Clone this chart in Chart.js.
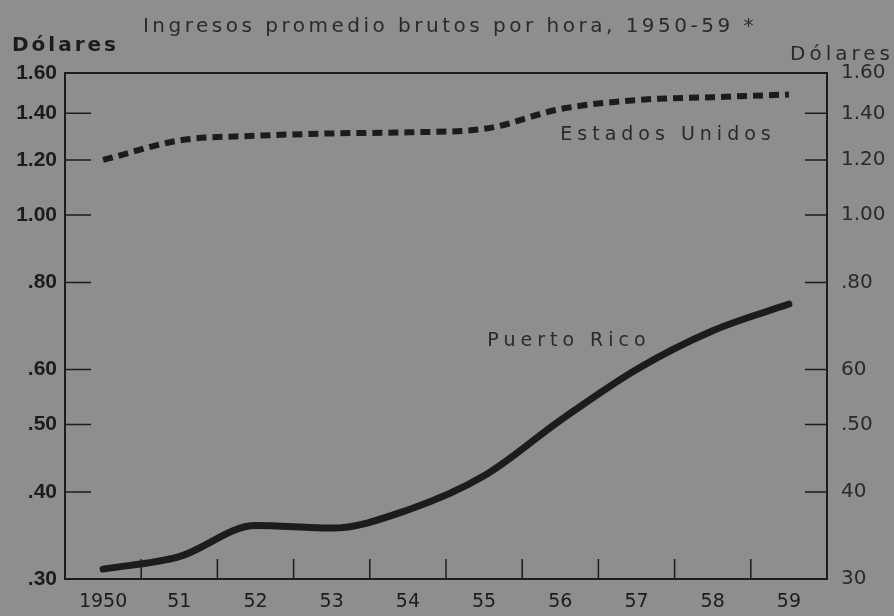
<!DOCTYPE html>
<html>
<head>
<meta charset="utf-8">
<script src="https://cdn.jsdelivr.net/npm/chart.js@4/dist/chart.umd.min.js"></script>
<style>
  html, body { margin: 0; padding: 0; background: #8e8e8e; }
  #wrap { width: 894px; height: 616px; }
</style>
</head>
<body>
<div id="wrap"><canvas id="myChart" width="894" height="616"></canvas></div>
<script>
// years along the bottom
var years = ['1950', '51', '52', '53', '54', '55', '56', '57', '58', '59'];
// dollars per hour
var puertoRico = [0.31, 0.323, 0.358, 0.355, 0.377, 0.422, 0.507, 0.600, 0.682, 0.745];
var estadosUnidos = [1.20, 1.28, 1.30, 1.31, 1.315, 1.33, 1.42, 1.463, 1.477, 1.49];
// tick values and how they are printed on each side
var tickValues = [0.30, 0.40, 0.50, 0.60, 0.80, 1.00, 1.20, 1.40, 1.60];
var leftTickLabels = ['.30', '.40', '.50', '.60', '.80', '1.00', '1.20', '1.40', '1.60'];
var rightTickLabels = ['30', '40', '.50', '60', '.80', '1.00', '1.20', '1.40', '1.60'];

var ink = '#1c1c1c';

// draws the frame, the little inside ticks and the loose texts
var decorations = {
  id: 'decorations',
  beforeDraw: function (chart) {
    var c = chart.ctx;
    c.save();
    c.fillStyle = '#8e8e8e';
    c.fillRect(0, 0, chart.width, chart.height);
    c.restore();
  },
  afterDatasetsDraw: function (chart) {
    var c = chart.ctx;
    var a = chart.chartArea;
    var y = chart.scales.y;
    var x = chart.scales.x;
    c.save();
    c.strokeStyle = ink;
    c.lineWidth = 2;
    c.strokeRect(a.left, a.top, a.right - a.left, a.bottom - a.top);

    // y ticks pointing in from both sides
    c.lineWidth = 1.5;
    tickValues.forEach(function (v) {
      var py = y.getPixelForValue(v);
      c.beginPath();
      c.moveTo(a.left, py); c.lineTo(a.left + 26, py);
      c.moveTo(a.right - 22, py); c.lineTo(a.right, py);
      c.stroke();
    });
    // year ticks between categories
    for (var i = 1; i < years.length; i++) {
      var px = (x.getPixelForValue(i - 1) + x.getPixelForValue(i)) / 2;
      c.beginPath();
      c.moveTo(px, a.bottom); c.lineTo(px, a.bottom - 20);
      c.stroke();
    }

    c.fillStyle = '#2a2a2a';
    c.textBaseline = 'middle';
    c.textAlign = 'center';
    c.font = '20px "DejaVu Sans"';
    c.letterSpacing = '3.5px';
    c.fillText('Ingresos promedio brutos por hora, 1950-59 *', 450, 27);

    c.fillStyle = ink;
    c.font = 'bold 20px "DejaVu Sans"';
    c.letterSpacing = '3px';
    c.textAlign = 'left';
    c.fillText('Dólares', 12, 46);
    c.fillStyle = '#2a2a2a';
    c.font = '20px "DejaVu Sans"';
    c.letterSpacing = '4px';
    c.fillText('Dólares', 790, 55);

    c.font = '19px "DejaVu Sans"';
    c.letterSpacing = '5px';
    c.textAlign = 'center';
    c.fillText('Estados Unidos', 668, 135);
    c.fillText('Puerto Rico', 569, 341);
    c.restore();
  }
};

function logTicks(scale) {
  scale.ticks = tickValues.map(function (v) { return { value: v }; });
}

function createChart() {
  var ctx = document.getElementById('myChart').getContext('2d');
  new Chart(ctx, {
    type: 'line',
    data: {
      labels: years,
      datasets: [
        {
          label: 'Estados Unidos',
          data: estadosUnidos,
          borderColor: ink,
          borderWidth: 6,
          borderDash: [10, 6],
          cubicInterpolationMode: 'monotone',
          pointRadius: 0,
          yAxisID: 'y'
        },
        {
          label: 'Puerto Rico',
          data: puertoRico,
          borderColor: ink,
          borderWidth: 7,
          borderCapStyle: 'round',
          cubicInterpolationMode: 'monotone',
          pointRadius: 0,
          yAxisID: 'y'
        }
      ]
    },
    options: {
      responsive: false,
      animation: false,
      layout: { padding: { top: 73, left: 0, right: 0, bottom: 0 } },
      plugins: { legend: { display: false }, tooltip: { enabled: false } },
      scales: {
        x: {
          type: 'category',
          offset: true,
          grid: { display: false, drawTicks: false },
          border: { display: false },
          ticks: { color: ink, padding: 12, font: { family: 'DejaVu Sans', size: 19 }, maxRotation: 0 },
          afterFit: function (s) { s.height = 37; }
        },
        y: {
          type: 'logarithmic',
          position: 'left',
          min: 0.3,
          max: 1.6,
          afterBuildTicks: logTicks,
          grid: { display: false, drawTicks: false },
          border: { display: false },
          ticks: {
            color: ink,
            padding: 8,
            font: { family: 'Liberation Sans', size: 21, weight: 'bold' },
            callback: function (v) { return leftTickLabels[tickValues.indexOf(v)]; }
          },
          afterFit: function (s) { s.width = 65; }
        },
        y2: {
          type: 'logarithmic',
          position: 'right',
          min: 0.3,
          max: 1.6,
          afterBuildTicks: logTicks,
          grid: { display: false, drawTicks: false },
          border: { display: false },
          ticks: {
            color: '#2a2a2a',
            padding: 14,
            font: { family: 'DejaVu Sans', size: 20 },
            callback: function (v) { return rightTickLabels[tickValues.indexOf(v)]; }
          },
          afterFit: function (s) { s.width = 67; }
        }
      }
    },
    plugins: [decorations]
  });
}
createChart();
</script>
</body>
</html>
